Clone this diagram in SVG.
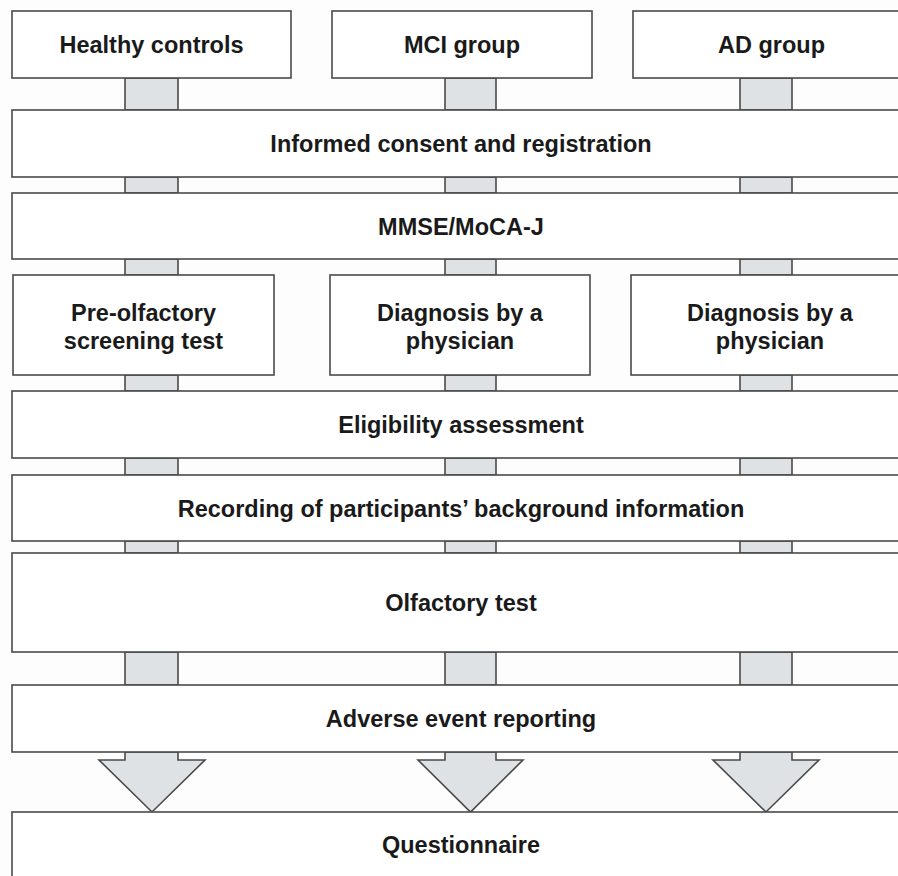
<svg xmlns="http://www.w3.org/2000/svg" width="898" height="876" viewBox="0 0 898 876">
<style>
.box{fill:#ffffff;stroke:#4a4a4a;stroke-width:1.6}
.con{fill:#dfe2e5;stroke:#4a4a4a;stroke-width:1.6}
.t{font-family:"Liberation Sans",Arial,sans-serif;font-weight:bold;font-size:23.5px;fill:#1a1a1a;text-anchor:middle}
</style>
<rect x="0" y="0" width="898" height="876" fill="#fdfdfd"/>
<g id="connectors">
<rect class="con" x="125" y="78" width="53" height="32"/>
<rect class="con" x="445" y="78" width="51" height="32"/>
<rect class="con" x="740" y="78" width="52" height="32"/>
<rect class="con" x="125" y="177" width="53" height="16"/>
<rect class="con" x="445" y="177" width="51" height="16"/>
<rect class="con" x="740" y="177" width="52" height="16"/>
<rect class="con" x="125" y="259" width="53" height="16"/>
<rect class="con" x="445" y="259" width="51" height="16"/>
<rect class="con" x="740" y="259" width="52" height="16"/>
<rect class="con" x="125" y="375" width="53" height="16"/>
<rect class="con" x="445" y="375" width="51" height="16"/>
<rect class="con" x="740" y="375" width="52" height="16"/>
<rect class="con" x="125" y="458" width="53" height="17"/>
<rect class="con" x="445" y="458" width="51" height="17"/>
<rect class="con" x="740" y="458" width="52" height="17"/>
<rect class="con" x="125" y="541" width="53" height="12"/>
<rect class="con" x="445" y="541" width="51" height="12"/>
<rect class="con" x="740" y="541" width="52" height="12"/>
<rect class="con" x="125" y="652" width="53" height="33"/>
<rect class="con" x="445" y="652" width="51" height="33"/>
<rect class="con" x="740" y="652" width="52" height="33"/>
<polygon class="con" points="125,752 125,760 99,760 152,812 205,760 178,760 178,752"/>
<polygon class="con" points="445,752 445,760 418,760 470.5,812 523,760 496,760 496,752"/>
<polygon class="con" points="740,752 740,760 713,760 766,812 819,760 792,760 792,752"/>
</g>
<g id="healthy"><rect class="box" x="12" y="11" width="279" height="67"/><text class="t" x="151.5" y="53">Healthy controls</text></g>
<g id="mci"><rect class="box" x="332" y="11" width="260" height="67"/><text class="t" x="462" y="53">MCI group</text></g>
<g id="ad"><rect class="box" x="633" y="11" width="280" height="67"/><text class="t" x="771.5" y="53">AD group</text></g>
<g id="consent"><rect class="box" x="12" y="110" width="900" height="67"/><text class="t" x="461" y="152">Informed consent and registration</text></g>
<g id="mmse"><rect class="box" x="12" y="193" width="900" height="66"/><text class="t" x="461" y="234.5">MMSE/MoCA-J</text></g>
<g id="preolf"><rect class="box" x="13" y="275" width="261" height="100"/><text class="t" x="143.5" y="321">Pre-olfactory</text><text class="t" x="143.5" y="348.5">screening test</text></g>
<g id="diag-mci"><rect class="box" x="330" y="275" width="260" height="100"/><text class="t" x="460" y="321">Diagnosis by a</text><text class="t" x="460" y="348.5">physician</text></g>
<g id="diag-ad"><rect class="box" x="631" y="275" width="280" height="100"/><text class="t" x="770" y="321">Diagnosis by a</text><text class="t" x="770" y="348.5">physician</text></g>
<g id="eligibility"><rect class="box" x="12" y="391" width="900" height="67"/><text class="t" x="461" y="433">Eligibility assessment</text></g>
<g id="recording"><rect class="box" x="12" y="475" width="900" height="66"/><text class="t" x="461" y="517">Recording of participants’ background information</text></g>
<g id="olfactory"><rect class="box" x="12" y="553" width="900" height="99"/><text class="t" x="461" y="611">Olfactory test</text></g>
<g id="adverse"><rect class="box" x="12" y="685" width="900" height="67"/><text class="t" x="461" y="727">Adverse event reporting</text></g>
<g id="questionnaire"><rect class="box" x="12" y="812" width="900" height="100"/><text class="t" x="461" y="853">Questionnaire</text></g>
</svg>
